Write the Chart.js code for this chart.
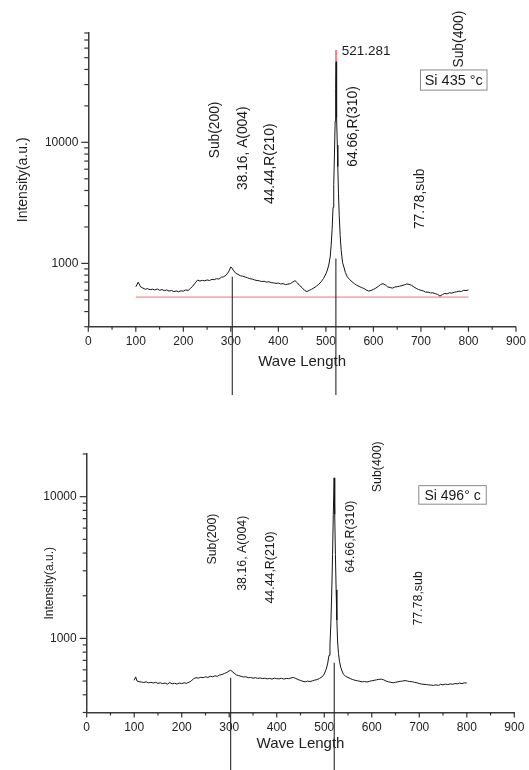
<!DOCTYPE html>
<html><head><meta charset="utf-8">
<script src="https://cdn.jsdelivr.net/npm/chart.js@4/dist/chart.umd.min.js"></script>
<style>
html,body{margin:0;padding:0;background:#fff;}
#wrap{position:relative;width:529px;height:770px;overflow:hidden;background:#fff;}
.box{position:absolute;left:0;width:529px;}
</style></head><body>
<div id="wrap">
<div class="box" style="top:0;height:395px"><canvas id="c1" width="529" height="395"></canvas></div>
<div class="box" style="top:395px;height:375px"><canvas id="c2" width="529" height="375"></canvas></div>
</div>
<script>
const FONT = '"Liberation Sans", Arial, sans-serif';

// ---- axis ticks ----
const xMajorTicks = [0, 100, 200, 300, 400, 500, 600, 700, 800, 900];
const xMinorTicks = [50, 150, 250, 350, 450, 550, 650, 750, 850];
const yMajorTicks = [1000, 10000];
const yMinorTicksA = [300, 400, 500, 600, 700, 800, 900, 2000, 3000, 4000, 5000, 6000, 7000, 8000, 9000, 20000, 30000, 40000, 50000, 60000, 70000, 80000];
const yMinorTicksB = [300, 400, 500, 600, 700, 800, 900, 2000, 3000, 4000, 5000, 6000, 7000, 8000, 9000, 20000];

// ---- Si 435 °c spectrum ----
const waveA = [
 100,105,110,115,120,125,130,135,140,145,
 150,155,160,165,170,175,180,185,190,195,
 200,205,210,215,220,225,230,235,240,245,
 250,255,260,265,270,275,280,285,290,295,
 300,302,305,310,315,320,325,330,335,340,
 345,350,355,360,365,370,375,380,385,390,
 395,400,405,410,415,420,425,430,435,440,
 445,450,455,460,465,470,475,480,485,490,
 495,500,503,506,509,511,513,515,516.5,518,
 519.5,520.5,521.3,522,523,524,525,526.5,528,530,
 532,535,538,541,545,550,555,560,565,570,
 575,580,585,590,595,600,605,610,615,620,
 625,630,635,640,645,650,655,660,665,670,
 675,680,685,690,695,700,705,710,715,720,
 725,730,735,740,745,750,755,760,765,770,
 775,780,785,790,795,800];
const intensityA = [
 641,700,640,625,612,618,606,612,603,615,
 600,608,596,604,590,598,585,592,583,594,
 590,604,598,622,650,690,728,715,724,718,
 730,722,738,734,748,742,768,776,800,850,
 935,920,880,830,812,790,785,772,760,748,
 742,730,722,718,708,712,700,706,694,690,
 684,688,676,680,668,674,680,700,720,690,
 655,630,600,585,598,612,628,648,672,705,
 750,820,880,970,1130,1400,1900,2900,4500,8000,
 15000,28000,46300,30000,16000,9500,6300,3800,2500,1700,
 1300,1020,930,840,775,735,705,680,660,645,
 632,620,602,590,598,610,625,645,668,680,
 665,640,632,625,638,642,648,655,665,676,
 672,660,640,622,608,600,592,578,580,570,
 572,562,555,537,552,565,560,572,568,578,
 582,590,586,600,596,604];

// ---- Si 496° c spectrum ----
const waveB = [
 100,103,106,110,115,120,125,130,135,140,
 145,150,155,160,165,170,175,180,185,190,
 195,200,205,210,215,220,225,230,235,240,
 245,250,255,260,265,270,275,280,285,290,
 295,300,303,306,310,315,320,325,330,335,
 340,345,350,355,360,365,370,375,380,385,
 390,395,400,405,410,415,420,425,430,435,
 440,445,450,455,460,465,470,475,480,485,
 490,495,500,504,507,510,512,514,516,517.5,
 519,520.8,522,523.5,525,526.5,528,530,532,535,
 540,545,550,555,560,565,570,575,580,585,
 590,595,600,605,610,615,620,625,630,635,
 640,645,650,655,660,665,670,675,680,685,
 690,695,700,705,710,715,720,725,730,735,
 740,745,750,755,760,765,770,775,780,785,
 790,795,800];
const intensityB = [
 506,535,500,495,492,488,494,486,490,484,
 490,482,486,480,484,476,488,478,482,476,
 484,480,486,482,490,500,520,528,524,532,
 528,536,530,540,536,544,540,552,556,566,
 575,590,596,585,570,552,546,540,534,536,
 528,530,524,528,522,526,520,524,518,522,
 516,524,520,518,524,516,522,520,526,530,
 522,512,505,498,494,500,496,502,508,512,
 522,534,560,605,660,760,900,1300,2300,3900,
 7500,13580,7500,3900,2200,1350,960,780,690,620,
 560,540,530,520,512,506,502,498,494,496,
 492,498,502,506,510,514,516,510,500,494,
 490,486,490,494,498,500,504,500,496,494,
 490,486,480,476,474,472,470,468,466,470,
 466,474,470,476,472,478,474,480,478,484,
 480,486,484];

// ---- peak marker & baseline (top chart) ----
const peakWaveA = 521.281;
const peakRangeA = [46300, 57900];
const peakLabelA = "521.281";
const baselineLevelA = 527;
const baselineSpanA = [100, 800];

// ---- vertical reference lines ----
const markerWaves = [303, 521];
const markerStartA = [775, 1100];
const markerStartB = [527, 674];

// ---- annotations ----
const annotTexts = ["Sub(200)", "38.16, A(004)", "44.44,R(210)", "64.66,R(310)", "Sub(400)", "77.78,sub"];
const annotWaveA = [266, 326, 383, 557, 780, 699];
const annotIntA  = [7380, 4036, 3093, 6280, 41500, 1920];
const annotWaveB = [265, 328, 386, 555, 612, 699];
const annotIntB  = [3320, 2167, 1760, 2900, 10740, 1231];

const legendTextA = "Si 435 °c";
const legendTextB = "Si 496° c";
const legendBoxA = {x: [699, 839], y: [27000, 39600]};
const legendBoxB = {x: [699, 841], y: [8850, 11960]};

const decor = {
  id: 'decor',
  afterDraw(chart, args, o) {
    const ctx = chart.ctx, xs = chart.scales.x, ys = chart.scales.y, ca = chart.chartArea;
    ctx.save();
    ctx.strokeStyle = '#333';
    ctx.lineWidth = 1.2;
    const seg = (x1, y1, x2, y2) => { ctx.beginPath(); ctx.moveTo(x1, y1); ctx.lineTo(x2, y2); ctx.stroke(); };
    xMajorTicks.forEach(v => { const p = xs.getPixelForValue(v); seg(p, ca.bottom, p, ca.bottom + 5); });
    xMinorTicks.forEach(v => { const p = xs.getPixelForValue(v); seg(p, ca.bottom, p, ca.bottom + 3); });
    yMajorTicks.forEach(v => { const p = ys.getPixelForValue(v); seg(ca.left - 7, p, ca.left, p); });
    o.yMinor.forEach(v => { const p = ys.getPixelForValue(v); seg(ca.left - 4, p, ca.left, p); });
    // vertical reference lines
    ctx.strokeStyle = '#2a2a2a';
    ctx.lineWidth = 1.1;
    markerWaves.forEach((w, i) => {
      const p = xs.getPixelForValue(w);
      seg(p, ys.getPixelForValue(o.markerStart[i]), p, chart.height);
    });
    // rotated annotations
    ctx.fillStyle = '#1a1a1a';
    ctx.font = o.annotSize + 'px ' + FONT;
    annotTexts.forEach((t, i) => {
      ctx.save();
      ctx.translate(xs.getPixelForValue(o.annotWave[i]), ys.getPixelForValue(o.annotInt[i]));
      ctx.rotate(-Math.PI / 2);
      ctx.textAlign = 'left';
      ctx.textBaseline = 'middle';
      ctx.fillText(t, 0, 0);
      ctx.restore();
    });
    // peak label
    if (o.peakLabel) {
      ctx.font = '13.5px ' + FONT;
      ctx.textAlign = 'left';
      ctx.textBaseline = 'middle';
      ctx.fillText(o.peakLabel, xs.getPixelForValue(o.peakLabelPos[0]), ys.getPixelForValue(o.peakLabelPos[1]));
    }
    // legend box
    const bx1 = xs.getPixelForValue(o.legendBox.x[0]), bx2 = xs.getPixelForValue(o.legendBox.x[1]);
    const by1 = ys.getPixelForValue(o.legendBox.y[1]), by2 = ys.getPixelForValue(o.legendBox.y[0]);
    ctx.fillStyle = '#fff';
    ctx.fillRect(bx1, by1, bx2 - bx1, by2 - by1);
    ctx.strokeStyle = '#8a8a8a';
    ctx.lineWidth = 1;
    ctx.strokeRect(bx1, by1, bx2 - bx1, by2 - by1);
    ctx.fillStyle = '#1a1a1a';
    ctx.font = o.legendSize + 'px ' + FONT;
    ctx.textAlign = 'center';
    ctx.textBaseline = 'middle';
    ctx.fillText(o.legendText, (bx1 + bx2) / 2, (by1 + by2) / 2 + 1);
    ctx.restore();
  }
};

function build(canvasId, p) {
  const datasets = [{
    data: p.wave.map((x, i) => ({x, y: p.intensity[i]})),
    borderColor: '#151515', borderWidth: 1, pointRadius: 0, tension: 0
  }];
  (p.extra || []).forEach(d => datasets.push(d));
  return new Chart(document.getElementById(canvasId), {
    type: 'line',
    data: {datasets},
    plugins: [decor],
    options: {
      responsive: false, animation: false, events: [],
      layout: {autoPadding: false, padding: p.padding},
      plugins: {legend: {display: false}, tooltip: {enabled: false}, decor: p.decor},
      scales: {
        x: {
          type: 'linear', min: 0, max: 900,
          afterBuildTicks: s => { s.ticks = xMajorTicks.map(v => ({value: v})); },
          afterFit: s => { s.height = p.xHeight; },
          grid: {display: false, drawTicks: true, tickLength: 5},
          border: {display: true, color: '#3a3a3a', width: 1.5},
          ticks: {font: {family: FONT, size: 12}, color: '#222', padding: p.xTickPad, maxRotation: 0,
                  callback: v => String(v)},
          title: {display: true, text: 'Wave Length', font: {family: FONT, size: 15}, color: '#222',
                  padding: {top: 0, bottom: p.xTitlePad}}
        },
        y: {
          type: 'logarithmic', min: 300, max: p.yMax,
          afterBuildTicks: s => { s.ticks = yMajorTicks.map(v => ({value: v})); },
          afterFit: s => { s.width = p.yWidth; },
          grid: {display: false, drawTicks: true, tickLength: 7},
          border: {display: true, color: '#3a3a3a', width: 1.5},
          ticks: {font: {family: FONT, size: 12}, color: '#222', padding: 3, callback: v => String(v)},
          title: {display: true, text: 'Intensity(a.u.)', font: {family: FONT, size: p.yTitleSize}, color: '#222',
                  padding: {top: p.yTitlePad, bottom: 0}}
        }
      }
    }
  });
}

build('c1', {
  wave: waveA, intensity: intensityA, yMax: 80000,
  padding: {top: 33, right: 9, bottom: 0, left: 0},
  xHeight: 68.3, yWidth: 88.3, xTickPad: 3, xTitlePad: 24, yTitleSize: 14, yTitlePad: 15,
  extra: [
    {data: [{x: baselineSpanA[0], y: baselineLevelA}, {x: baselineSpanA[1], y: baselineLevelA}],
     borderColor: '#f07070', borderWidth: 1, pointRadius: 0},
    {data: [{x: peakWaveA, y: peakRangeA[0]}, {x: peakWaveA, y: peakRangeA[1]}],
     borderColor: '#ff3030', borderWidth: 1.2, pointRadius: 0}
  ],
  decor: {yMinor: yMinorTicksA, markerStart: markerStartA, annotWave: annotWaveA, annotInt: annotIntA,
          annotSize: 13.8, peakLabel: peakLabelA, peakLabelPos: [533.5, 56100],
          legendBox: legendBoxA, legendText: legendTextA, legendSize: 14.5}
});

build('c2', {
  wave: waveB, intensity: intensityB, yMax: 20000,
  padding: {top: 59, right: 14.7, bottom: 0, left: 0},
  xHeight: 57.5, yWidth: 86.7, xTickPad: 3, xTitlePad: 17, yTitleSize: 12, yTitlePad: 42,
  decor: {yMinor: yMinorTicksB, markerStart: markerStartB, annotWave: annotWaveB, annotInt: annotIntB,
          annotSize: 12.4, peakLabel: null, peakLabelPos: [0, 0],
          legendBox: legendBoxB, legendText: legendTextB, legendSize: 14}
});
</script>
</body></html>
